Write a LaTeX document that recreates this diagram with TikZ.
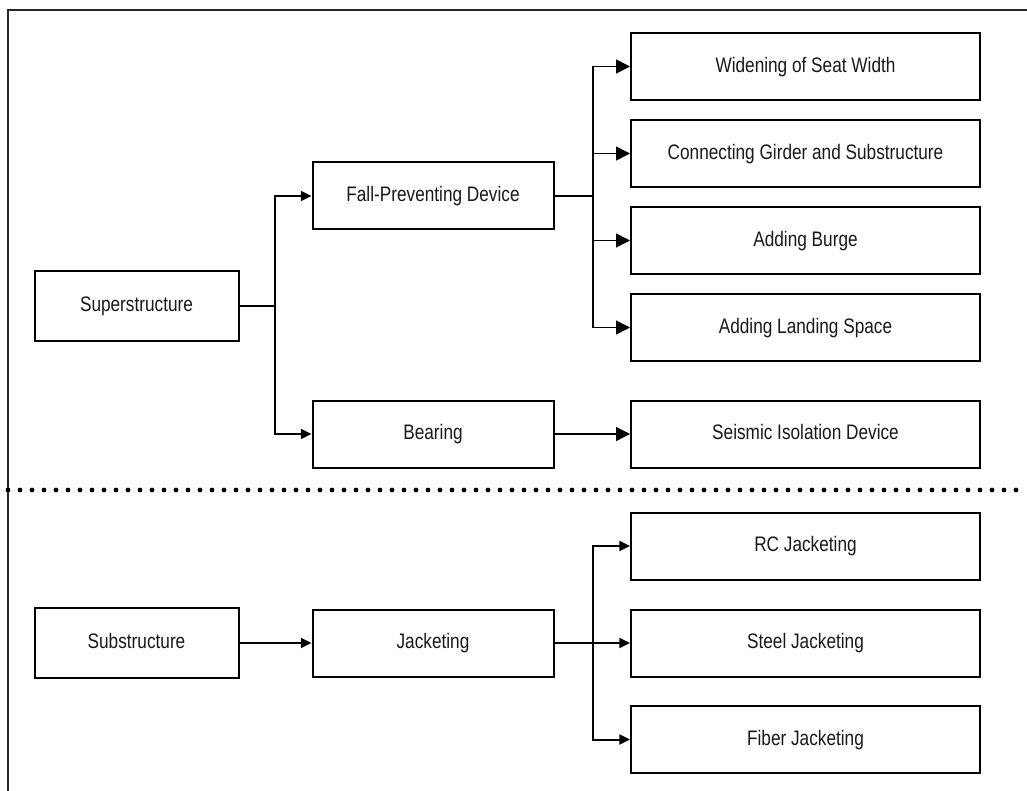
\documentclass[tikz,border=0pt]{standalone}
\usepackage{fontspec}
\setmainfont{Liberation Sans}[FakeStretch=0.82]
\usetikzlibrary{arrows.meta}
\begin{document}
\begin{tikzpicture}[x=0.75pt,y=-0.75pt,
  every node/.style={font=\fontsize{15.75}{18}\selectfont, text=black!90},
  box/.style={draw=black, line width=1.5pt, align=center, inner sep=0pt,
              text height=11.5pt, text depth=2.9pt},
  leftbox/.style={box, minimum width=153pt, minimum height=52pt},
  midbox/.style={box, minimum width=180.75pt, minimum height=50.25pt},
  rightbox/.style={box, minimum width=261.75pt, minimum height=50.25pt},
  conn/.style={line width=1.5pt},
  thinconn/.style={line width=1.2pt},
  bigarrow/.style={-{Triangle[length=10.5pt,width=10.5pt]}},
  smallarrow/.style={-{Triangle[length=8pt,width=7.5pt]}},
  frame/.style={line width=1.3pt, draw=black!85},
  divider/.style={line width=3.6pt, line cap=round, dash pattern=on 0pt off 9pt}
]
\useasboundingbox (0,0) rectangle (1027,791);

% outer frame: top and left edges only
\draw[frame] (1027,10) -- (8,10) -- (8,791);

% dotted divider between superstructure and substructure
\draw[divider] (8,490) -- (1027,490);

% superstructure branch
\node[leftbox]  (sup)  at (136.5,306) {Superstructure};
\node[midbox]   (fall) at (433,196)   {Fall-Preventing Device};
\node[midbox]   (bear) at (433,434)   {Bearing};
\node[rightbox] (wid)  at (805.5,66.5)  {Widening of Seat Width};
\node[rightbox] (con)  at (805.5,153.5) {Connecting Girder and Substructure};
\node[rightbox] (burg) at (805.5,240.5) {Adding Burge};
\node[rightbox] (land) at (805.5,327.5) {Adding Landing Space};
\node[rightbox] (seis) at (805.5,434)   {Seismic Isolation Device};

% substructure branch
\node[leftbox]  (sub)   at (136.5,643) {Substructure};
\node[midbox]   (jack)  at (433,643)   {Jacketing};
\node[rightbox] (rc)    at (805.5,546) {RC Jacketing};
\node[rightbox] (steel) at (805.5,643) {Steel Jacketing};
\node[rightbox] (fiber) at (805.5,739.5) {Fiber Jacketing};

% junction points
\coordinate (j1) at (275,306);
\coordinate (j2) at (593,196);
\coordinate (j3) at (593,643);

% superstructure connectors
\draw[conn] (sup) -- (j1);
\draw[conn, smallarrow] (j1) |- (fall);
\draw[conn, smallarrow] (j1) |- (bear);

\draw[conn] (fall) -- (j2);
\draw[thinconn, bigarrow] (j2) |- (wid);
\draw[thinconn, bigarrow] (j2) |- (con);
\draw[thinconn, bigarrow] (j2) |- (burg);
\draw[thinconn, bigarrow] (j2) |- (land);

\draw[line width=1pt, bigarrow] (bear) -- (seis);

% substructure connectors
\draw[conn, smallarrow] (sub) -- (jack);
\draw[conn] (jack) -- (j3);
\draw[conn, smallarrow] (j3) |- (rc);
\draw[conn, smallarrow] (j3) -- (steel);
\draw[conn, smallarrow] (j3) |- (fiber);
\end{tikzpicture}
\end{document}
